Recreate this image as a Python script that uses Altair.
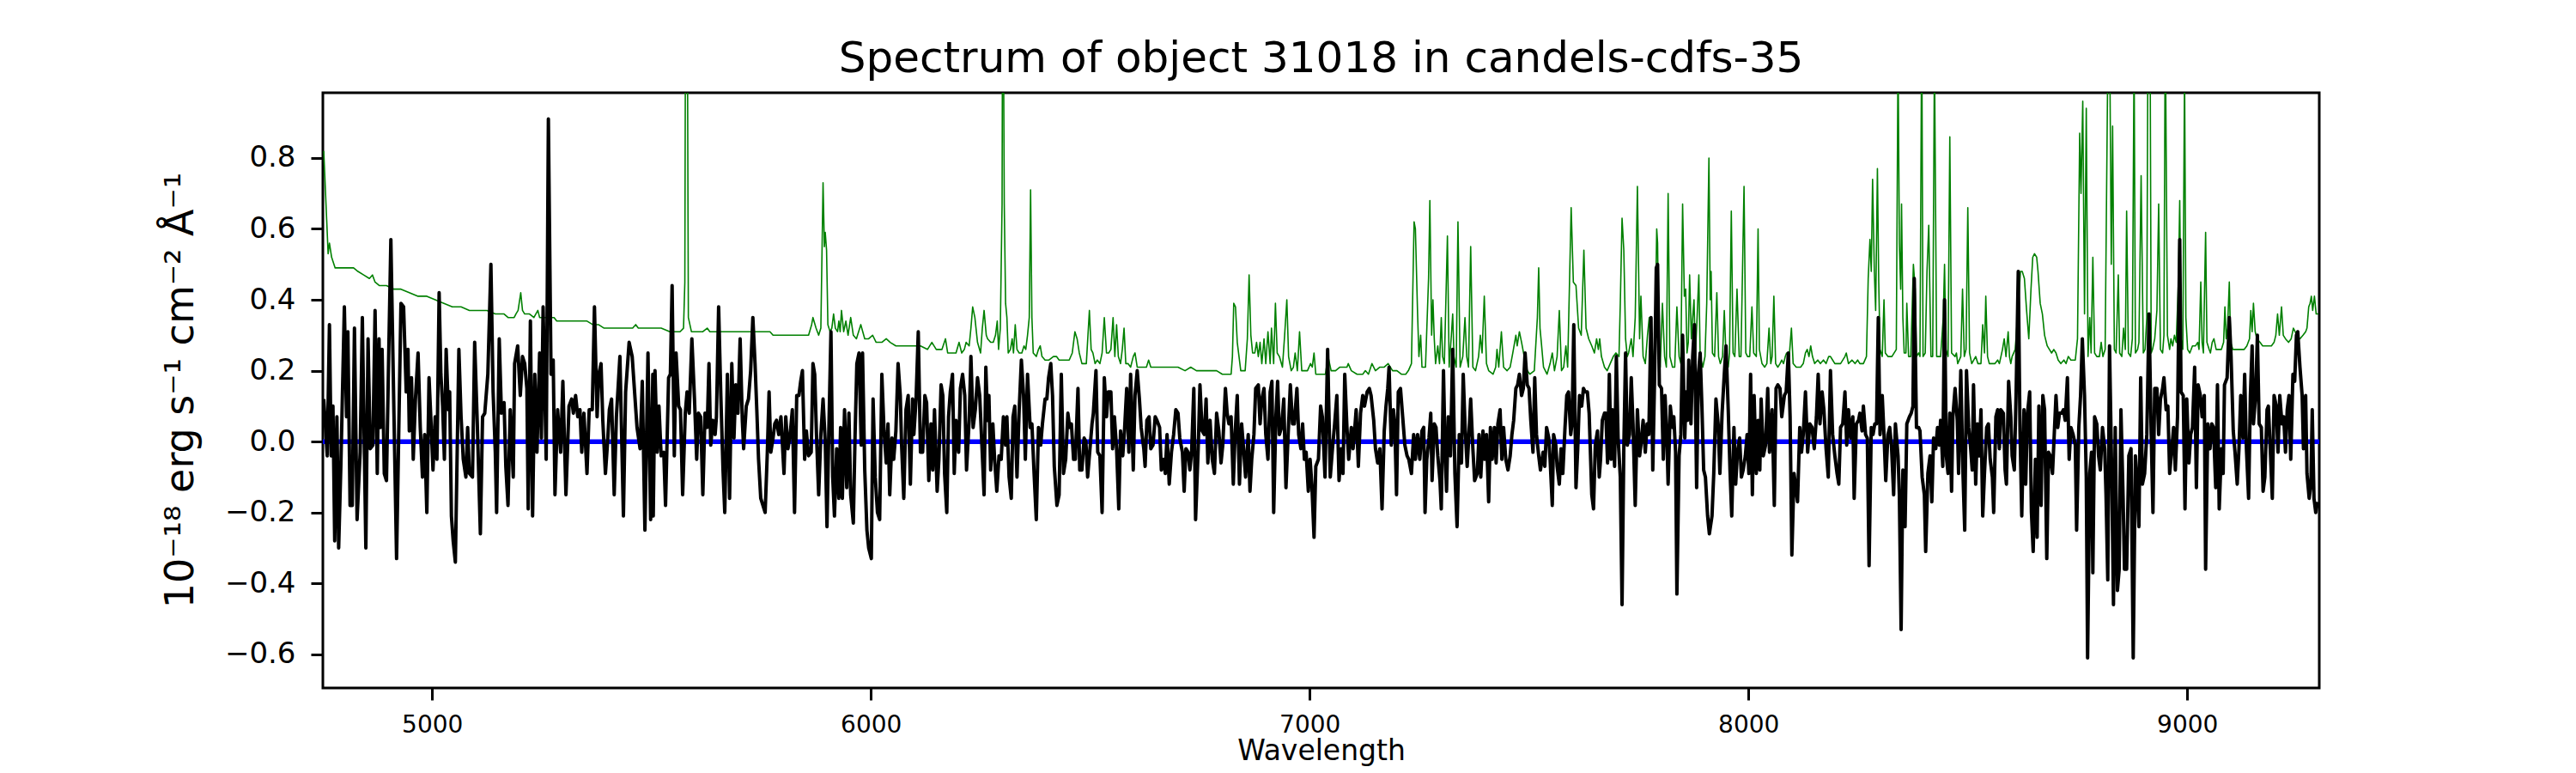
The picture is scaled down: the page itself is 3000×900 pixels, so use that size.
import altair as alt
import pandas as pd

# ---------------- data ----------------
# black: object spectrum (wavelength [Angstrom], flux [1e-18 erg/s/cm2/A])
black_4750_5500 = [
    (4753, 0.12), (4761, -0.04), (4766, 0.33), (4770, -0.04), (4774, 0.10), (4778, -0.28), (4783, 0.07), (4787, -0.30), (4792, -0.07), (4800, 0.38),
    (4805, 0.07), (4808, 0.31), (4813, -0.18), (4818, -0.18), (4823, 0.32), (4829, -0.22), (4836, -0.03), (4841, 0.35), (4849, -0.30), (4854, 0.29),
    (4859, -0.02), (4865, -0.01), (4870, 0.37), (4875, -0.09), (4879, 0.29), (4882, 0.04), (4886, 0.26), (4891, -0.09), (4896, -0.11), (4901, 0.24),
    (4906, 0.57), (4913, 0.08), (4919, -0.33), (4929, 0.39), (4935, 0.38), (4941, 0.14), (4945, 0.26), (4948, 0.03), (4953, 0.18), (4957, -0.05),
    (4962, 0.12), (4968, 0.25), (4973, 0.04), (4978, -0.10), (4983, 0.02), (4988, -0.20), (4993, 0.18), (4997, 0.07), (5002, -0.08), (5007, 0.07),
    (5011, -0.05), (5016, 0.42), (5020, 0.19), (5024, 0.10), (5028, -0.05), (5032, 0.26), (5037, 0.09), (5040, 0.14), (5044, -0.21), (5048, -0.28),
    (5053, -0.34), (5061, 0.26), (5066, 0.07), (5071, -0.05), (5077, -0.10), (5081, 0.04), (5085, -0.09), (5092, -0.10), (5097, 0.28), (5103, 0.05),
    (5110, -0.26), (5115, 0.07), (5120, 0.08), (5127, 0.19), (5134, 0.50), (5139, 0.14), (5144, -0.03), (5147, -0.20), (5153, 0.29), (5158, 0.08),
    (5164, 0.11), (5168, -0.07), (5173, -0.18), (5178, 0.09), (5185, -0.10), (5188, 0.22), (5195, 0.27), (5201, 0.13), (5206, 0.24), (5211, 0.22),
    (5216, 0.15), (5219, -0.19), (5224, 0.34), (5229, -0.21), (5234, 0.19), (5239, -0.03), (5245, 0.25), (5249, 0.01), (5253, 0.38), (5260, -0.05),
    (5265, 0.91), (5271, 0.19), (5276, 0.23), (5280, -0.15), (5286, 0.09), (5293, -0.03), (5298, 0.17), (5305, -0.15), (5312, 0.10), (5318, 0.12),
    (5322, 0.08), (5327, 0.13), (5332, 0.07), (5337, 0.09), (5341, -0.03), (5346, 0.08), (5353, -0.09), (5358, 0.09), (5365, 0.09), (5370, 0.38),
    (5376, 0.07), (5380, 0.19), (5385, 0.22), (5389, 0.06), (5395, -0.09), (5400, 0.00), (5404, 0.09), (5409, 0.12), (5415, -0.15), (5420, 0.07),
    (5428, 0.24), (5436, -0.21), (5441, 0.14), (5449, 0.28), (5456, 0.24), (5462, 0.13), (5467, 0.04), (5474, -0.02), (5479, 0.17), (5485, -0.25),
    (5492, 0.25), (5498, -0.22), (5503, 0.19),
]
black_5500_6270 = [
    (5504, -0.21), (5508, 0.20), (5513, -0.03), (5517, 0.10), (5522, -0.04), (5528, -0.03), (5532, -0.18), (5539, 0.18), (5543, 0.19), (5547, 0.44),
    (5552, -0.04), (5556, 0.25), (5562, 0.10), (5566, 0.09), (5571, -0.15), (5577, 0.08), (5581, 0.14), (5586, 0.08), (5592, 0.29), (5598, 0.12),
    (5603, -0.05), (5607, 0.08), (5612, 0.07), (5617, -0.15), (5622, 0.08), (5627, 0.04), (5631, 0.22), (5635, -0.01), (5640, 0.06), (5645, 0.02),
    (5648, 0.07), (5653, 0.38), (5658, 0.13), (5663, -0.08), (5667, -0.20), (5673, 0.19), (5678, -0.16), (5683, 0.22), (5688, 0.01), (5692, 0.16),
    (5697, 0.08), (5702, 0.29), (5707, 0.06), (5710, -0.02), (5716, 0.10), (5721, 0.12), (5726, 0.20), (5731, 0.35), (5736, 0.22), (5740, 0.09),
    (5744, -0.05), (5749, -0.16), (5754, -0.18), (5759, -0.20), (5764, -0.03), (5768, 0.14), (5772, -0.03), (5777, 0.01), (5781, 0.05), (5785, 0.06),
    (5790, 0.02), (5795, 0.07), (5802, -0.09), (5806, 0.07), (5811, -0.02), (5816, 0.02), (5821, 0.09), (5826, -0.20), (5831, 0.13), (5836, 0.13),
    (5840, 0.17), (5844, 0.20), (5849, -0.05), (5853, 0.03), (5858, -0.04), (5864, -0.03), (5868, 0.22), (5872, 0.19), (5876, 0.02), (5881, -0.15),
    (5886, 0.02), (5891, 0.12), (5896, 0.00), (5900, -0.24), (5904, 0.02), (5909, 0.31), (5913, -0.10), (5917, -0.21), (5922, -0.02), (5927, -0.16),
    (5931, 0.04), (5935, -0.16), (5940, 0.09), (5945, -0.13), (5950, 0.08), (5954, -0.15), (5960, -0.23), (5964, 0.02), (5968, 0.22), (5973, 0.25),
    (5978, -0.01), (5981, 0.25), (5986, -0.08), (5991, -0.25), (5995, -0.30), (6001, -0.33), (6005, 0.12), (6010, -0.10), (6015, -0.20), (6020, -0.22),
    (6025, 0.19), (6030, 0.03), (6035, -0.06), (6039, 0.05), (6043, -0.15), (6048, 0.01), (6052, -0.05), (6057, 0.03), (6062, 0.22), (6067, 0.13),
    (6070, -0.01), (6075, -0.16), (6080, 0.09), (6085, 0.13), (6090, -0.12), (6095, 0.12), (6098, 0.02), (6103, 0.12), (6108, 0.31), (6113, -0.03),
    (6118, -0.03), (6123, 0.13), (6127, 0.11), (6132, -0.11), (6137, 0.05), (6141, -0.08), (6145, 0.09), (6151, -0.14), (6155, -0.05), (6160, 0.16),
    (6164, 0.13), (6168, -0.09), (6173, -0.20), (6177, 0.07), (6181, 0.14), (6186, 0.19), (6190, -0.09), (6194, 0.06), (6200, -0.03), (6204, 0.15),
    (6209, 0.19), (6214, 0.13), (6218, -0.08), (6224, 0.06), (6228, 0.24), (6233, 0.04), (6238, 0.09), (6243, 0.18), (6248, 0.13), (6253, -0.01),
    (6258, -0.15), (6262, 0.21), (6266, 0.06),
]
black_6270_7030 = [
    (6269, 0.13), (6273, -0.08), (6278, 0.05), (6282, -0.05), (6287, -0.14), (6292, -0.04), (6297, -0.05), (6302, 0.07), (6307, -0.01), (6310, 0.07),
    (6315, -0.10), (6320, -0.16), (6324, 0.07), (6328, 0.10), (6333, -0.10), (6338, 0.09), (6343, 0.23), (6348, 0.13), (6352, -0.05), (6357, 0.19),
    (6363, 0.04), (6367, 0.05), (6372, -0.09), (6377, -0.22), (6382, 0.04), (6387, -0.01), (6391, 0.05), (6397, 0.12), (6401, 0.12), (6405, 0.18),
    (6410, 0.22), (6414, 0.13), (6418, -0.07), (6424, -0.18), (6429, -0.15), (6434, 0.19), (6439, -0.09), (6444, -0.05), (6449, 0.08), (6453, 0.04),
    (6457, 0.05), (6462, -0.05), (6466, -0.05), (6472, 0.15), (6476, -0.08), (6481, -0.08), (6486, 0.01), (6490, 0.00), (6494, -0.10), (6500, -0.01),
    (6504, 0.05), (6507, 0.08), (6513, 0.20), (6517, -0.03), (6522, -0.04), (6527, -0.20), (6532, 0.18), (6537, 0.07), (6541, 0.14), (6547, 0.14),
    (6551, -0.02), (6555, 0.07), (6560, -0.02), (6565, -0.19), (6569, 0.03), (6574, -0.04), (6578, 0.03), (6583, 0.15), (6588, -0.03), (6592, 0.19),
    (6598, -0.08), (6602, 0.13), (6607, 0.20), (6612, 0.12), (6616, 0.04), (6622, -0.02), (6625, -0.07), (6629, 0.06), (6634, 0.07), (6638, -0.02),
    (6643, -0.01), (6648, 0.07), (6652, 0.06), (6658, 0.04), (6662, -0.08), (6667, -0.05), (6671, -0.09), (6675, 0.02), (6680, -0.12), (6685, -0.03),
    (6690, 0.02), (6695, 0.09), (6700, 0.08), (6704, 0.01), (6710, -0.03), (6714, -0.14), (6718, -0.02), (6723, -0.03), (6727, -0.08), (6731, -0.03),
    (6736, 0.15), (6740, -0.22), (6746, -0.02), (6750, 0.16), (6755, 0.03), (6760, 0.02), (6764, 0.12), (6768, -0.06), (6773, 0.06), (6778, -0.05),
    (6783, -0.09), (6788, 0.08), (6793, 0.03), (6798, -0.06), (6802, -0.01), (6808, 0.15), (6812, 0.08), (6816, 0.05), (6821, 0.07), (6826, -0.12),
    (6830, 0.02), (6835, 0.13), (6840, -0.12), (6845, 0.05), (6850, -0.03), (6854, -0.10), (6860, 0.02), (6864, -0.14), (6868, -0.05), (6873, 0.02),
    (6877, 0.15), (6883, 0.16), (6887, 0.05), (6891, 0.12), (6896, 0.15), (6900, 0.02), (6905, -0.05), (6910, 0.14), (6914, 0.17), (6918, -0.20),
    (6923, 0.07), (6927, 0.17), (6931, 0.02), (6936, 0.04), (6941, 0.12), (6946, -0.13), (6951, 0.02), (6956, 0.16), (6961, 0.05), (6965, 0.05),
    (6971, 0.15), (6975, 0.02), (6980, -0.02), (6984, 0.05), (6988, -0.05), (6992, -0.03), (6997, -0.14), (7001, -0.05), (7005, -0.12), (7010, -0.27),
    (7014, -0.07), (7020, -0.05), (7025, 0.10),
]
black_7030_7790 = [
    (7029, 0.07), (7035, -0.10), (7041, 0.26), (7047, -0.10), (7052, -0.02), (7057, 0.05), (7062, 0.13), (7067, -0.11), (7072, -0.02), (7076, -0.09),
    (7080, 0.19), (7085, 0.04), (7089, -0.05), (7095, 0.04), (7099, -0.02), (7103, 0.04), (7106, 0.09), (7111, -0.07), (7116, 0.08), (7121, 0.13),
    (7125, 0.10), (7131, 0.14), (7136, 0.15), (7140, 0.13), (7146, 0.06), (7150, -0.02), (7155, -0.06), (7160, -0.02), (7165, -0.19), (7170, 0.03),
    (7174, 0.10), (7178, 0.15), (7181, 0.21), (7186, -0.01), (7191, 0.09), (7194, 0.05), (7198, -0.15), (7202, 0.14), (7207, 0.15), (7212, 0.07),
    (7217, -0.01), (7222, -0.04), (7226, -0.05), (7232, -0.09), (7237, 0.02), (7241, -0.05), (7246, 0.02), (7251, -0.05), (7256, 0.03), (7260, 0.04),
    (7263, -0.20), (7267, -0.05), (7272, 0.01), (7276, 0.08), (7279, -0.11), (7284, 0.05), (7288, 0.04), (7292, -0.04), (7297, -0.11), (7300, -0.19),
    (7305, 0.20), (7309, -0.04), (7312, -0.14), (7316, 0.07), (7321, -0.04), (7326, 0.26), (7331, -0.09), (7336, -0.24), (7341, 0.02), (7346, -0.06),
    (7350, 0.19), (7354, 0.05), (7359, -0.07), (7363, 0.02), (7367, 0.12), (7372, -0.02), (7376, -0.11), (7382, -0.09), (7386, 0.02), (7390, -0.10),
    (7395, 0.03), (7399, -0.05), (7403, 0.02), (7408, -0.17), (7412, 0.04), (7416, -0.05), (7421, 0.04), (7425, -0.06), (7429, 0.05), (7434, 0.09),
    (7438, -0.05), (7442, 0.04), (7447, -0.05), (7452, -0.08), (7457, -0.04), (7461, 0.02), (7465, 0.06), (7470, 0.15), (7474, 0.16), (7478, 0.19),
    (7483, 0.13), (7487, 0.15), (7491, 0.25), (7496, 0.16), (7500, 0.15), (7504, 0.06), (7509, -0.03), (7513, 0.18), (7517, 0.02), (7522, -0.04),
    (7526, -0.08), (7532, -0.03), (7536, -0.07), (7540, 0.04), (7545, 0.01), (7548, -0.05), (7553, -0.18), (7556, 0.02), (7561, -0.01), (7564, -0.07),
    (7569, -0.12), (7573, -0.02), (7577, -0.09), (7582, 0.04), (7586, 0.13), (7590, 0.14), (7595, 0.02), (7598, 0.05), (7602, 0.33), (7607, -0.13),
    (7611, -0.02), (7615, 0.13), (7620, 0.10), (7624, 0.15), (7628, 0.14), (7633, 0.14), (7637, 0.08), (7643, -0.15), (7647, -0.19), (7651, -0.01),
    (7656, 0.03), (7660, -0.10), (7663, -0.05), (7667, 0.06), (7672, 0.08), (7675, 0.08), (7679, -0.06), (7683, 0.19), (7687, -0.05), (7690, 0.09),
    (7695, -0.07), (7699, 0.24), (7703, 0.01), (7708, -0.10), (7712, -0.46), (7716, -0.02), (7720, 0.25), (7724, -0.01), (7729, 0.02), (7733, 0.18),
    (7737, 0.05), (7742, -0.18), (7747, 0.09), (7752, -0.04), (7755, -0.01), (7760, 0.06), (7765, -0.03), (7769, 0.05), (7773, 0.02), (7778, 0.35),
    (7782, -0.08), (7786, 0.17), (7790, 0.49),
]
black_7790_8560 = [
    (7793, 0.50), (7797, 0.16), (7802, 0.15), (7806, -0.05), (7810, 0.13), (7814, 0.02), (7817, -0.12), (7822, 0.10), (7827, 0.04), (7830, 0.07),
    (7834, -0.03), (7837, -0.43), (7842, -0.04), (7846, 0.02), (7850, 0.30), (7855, 0.01), (7858, 0.14), (7861, 0.06), (7864, 0.23), (7869, 0.05),
    (7873, 0.24), (7877, 0.33), (7882, -0.13), (7886, 0.19), (7890, 0.25), (7894, 0.10), (7898, -0.08), (7902, -0.10), (7907, -0.21), (7911, -0.26),
    (7917, -0.21), (7921, -0.09), (7926, 0.12), (7931, 0.05), (7935, -0.09), (7940, 0.08), (7945, 0.19), (7949, 0.27), (7954, 0.09), (7958, -0.08),
    (7962, -0.21), (7967, 0.04), (7971, -0.12), (7975, -0.03), (7980, 0.01), (7984, -0.10), (7988, -0.08), (7993, -0.04), (7997, 0.02), (8001, -0.09),
    (8005, 0.19), (8009, -0.15), (8013, 0.13), (8018, -0.09), (8022, 0.06), (8026, -0.08), (8029, 0.12), (8034, -0.04), (8039, -0.01), (8044, 0.15),
    (8048, -0.03), (8054, 0.09), (8059, -0.18), (8063, 0.15), (8067, 0.16), (8072, 0.15), (8076, 0.07), (8082, 0.13), (8086, 0.14), (8091, 0.25),
    (8095, 0.07), (8099, -0.32), (8104, -0.09), (8108, -0.13), (8112, -0.17), (8117, 0.04), (8121, -0.03), (8125, 0.02), (8130, 0.14), (8135, -0.03),
    (8140, 0.05), (8145, 0.04), (8150, -0.02), (8155, 0.07), (8159, 0.19), (8163, 0.05), (8168, 0.14), (8172, 0.09), (8177, -0.02), (8182, -0.10),
    (8187, 0.20), (8192, 0.02), (8197, -0.04), (8202, -0.09), (8206, -0.12), (8210, 0.04), (8215, 0.05), (8220, 0.14), (8224, -0.01), (8228, 0.09),
    (8233, 0.01), (8238, 0.07), (8241, -0.16), (8246, 0.05), (8251, 0.06), (8254, 0.08), (8259, 0.03), (8262, 0.10), (8267, 0.02), (8271, 0.01),
    (8275, -0.35), (8280, 0.04), (8284, 0.02), (8288, 0.05), (8292, 0.05), (8296, 0.35), (8300, 0.02), (8305, 0.13), (8309, 0.02), (8313, -0.11),
    (8318, 0.02), (8322, 0.04), (8326, -0.01), (8331, -0.15), (8335, 0.05), (8341, -0.04), (8344, -0.15), (8348, -0.53), (8352, -0.08), (8357, -0.24),
    (8361, 0.05), (8367, 0.07), (8371, 0.08), (8375, 0.10), (8378, 0.46), (8383, 0.04), (8388, 0.04), (8391, 0.03), (8396, -0.10), (8401, -0.15),
    (8404, -0.31), (8409, -0.09), (8414, -0.04), (8418, -0.17), (8422, 0.01), (8427, -0.02), (8431, 0.04), (8435, -0.01), (8438, 0.06), (8443, -0.07),
    (8447, 0.40), (8451, -0.04), (8455, -0.09), (8459, 0.08), (8463, -0.14), (8466, 0.07), (8471, 0.15), (8476, 0.06), (8479, -0.09), (8484, 0.20),
    (8489, -0.09), (8493, -0.25), (8497, 0.20), (8502, 0.04), (8506, -0.01), (8510, -0.08), (8513, 0.16), (8518, -0.12), (8522, 0.05), (8526, -0.04),
    (8530, 0.09), (8534, -0.21), (8538, -0.09), (8543, 0.04), (8547, 0.05), (8551, -0.05), (8556, -0.10),
]
black_8560_9300 = [
    (8559, -0.20), (8564, 0.07), (8568, 0.09), (8572, -0.02), (8575, 0.09), (8581, 0.08), (8585, -0.08), (8588, -0.12), (8593, 0.17), (8598, 0.07),
    (8601, -0.04), (8606, -0.08), (8610, 0.13), (8615, 0.48), (8619, 0.03), (8623, -0.21), (8628, 0.09), (8632, -0.12), (8636, 0.08), (8641, 0.14),
    (8645, -0.20), (8649, -0.31), (8654, -0.05), (8658, -0.27), (8662, 0.10), (8667, -0.18), (8671, 0.13), (8675, 0.09), (8680, -0.33), (8684, -0.03),
    (8688, -0.04), (8693, -0.09), (8697, 0.02), (8701, 0.13), (8705, 0.04), (8709, 0.08), (8714, 0.08), (8718, 0.09), (8722, 0.06), (8727, 0.18),
    (8731, -0.05), (8735, 0.04), (8740, 0.02), (8745, -0.01), (8748, -0.25), (8753, 0.04), (8757, 0.13), (8761, 0.29), (8766, 0.13), (8770, -0.10),
    (8773, -0.61), (8778, -0.09), (8782, -0.03), (8785, -0.37), (8789, 0.07), (8794, 0.05), (8798, -0.04), (8802, -0.08), (8807, 0.04), (8812, -0.02),
    (8815, -0.15), (8819, -0.39), (8823, 0.27), (8828, -0.09), (8832, -0.46), (8836, 0.04), (8841, -0.42), (8845, -0.36), (8849, 0.09), (8854, -0.16),
    (8857, -0.36), (8862, -0.36), (8867, -0.04), (8872, -0.02), (8877, -0.61), (8882, -0.04), (8886, -0.12), (8890, -0.24), (8894, 0.18), (8898, -0.12),
    (8903, -0.09), (8908, 0.02), (8913, 0.36), (8918, 0.02), (8922, -0.20), (8926, 0.15), (8931, 0.15), (8935, 0.02), (8939, 0.12), (8944, 0.15),
    (8947, 0.18), (8952, 0.09), (8956, 0.10), (8960, -0.09), (8965, -0.02), (8969, 0.04), (8973, -0.08), (8978, 0.07), (8983, 0.57), (8986, 0.14),
    (8991, 0.13), (8995, -0.19), (8999, 0.12), (9004, -0.06), (9008, 0.02), (9012, 0.04), (9017, 0.21), (9021, -0.13), (9025, 0.16), (9030, 0.13),
    (9034, 0.07), (9039, 0.13), (9042, -0.36), (9047, 0.05), (9052, -0.02), (9056, 0.05), (9060, 0.04), (9065, -0.13), (9069, 0.16), (9073, -0.19),
    (9078, -0.02), (9082, -0.09), (9085, 0.16), (9091, 0.18), (9096, 0.35), (9100, 0.24), (9105, 0.03), (9109, -0.03), (9114, -0.12), (9118, -0.02),
    (9122, 0.13), (9127, 0.01), (9131, 0.19), (9135, -0.02), (9140, -0.16), (9144, 0.13), (9148, 0.27), (9151, 0.05), (9156, 0.13), (9160, 0.30),
    (9164, 0.05), (9169, 0.04), (9173, -0.14), (9177, -0.10), (9182, 0.09), (9185, 0.10), (9190, -0.04), (9194, -0.16), (9198, 0.13), (9203, 0.10),
    (9207, -0.03), (9211, 0.13), (9216, 0.05), (9220, 0.07), (9224, -0.03), (9228, 0.09), (9232, 0.13), (9236, -0.05), (9241, 0.19), (9245, 0.17),
    (9249, 0.30), (9252, 0.31), (9257, 0.21), (9262, 0.13), (9265, -0.02), (9270, 0.13), (9273, -0.09), (9278, -0.16), (9282, -0.12), (9285, 0.09),
    (9289, -0.16), (9293, -0.20), (9297, -0.17),
]

# green: noise / sky spectrum (sky lines run off the top of the panel)
green_4750_5500 = [
    (4753, 0.82), (4763, 0.53), (4766, 0.56), (4771, 0.52), (4779, 0.49), (4789, 0.49), (4802, 0.49), (4811, 0.49), (4821, 0.49), (4831, 0.48),
    (4844, 0.47), (4857, 0.46), (4864, 0.47), (4870, 0.45), (4880, 0.44), (4896, 0.44), (4913, 0.43), (4929, 0.43), (4948, 0.42), (4968, 0.41),
    (4988, 0.41), (5007, 0.40), (5027, 0.39), (5046, 0.38), (5066, 0.38), (5085, 0.37), (5105, 0.37), (5125, 0.37), (5144, 0.36), (5164, 0.36),
    (5173, 0.35), (5180, 0.35), (5187, 0.35), (5191, 0.36), (5196, 0.37), (5202, 0.42), (5206, 0.37), (5211, 0.36), (5222, 0.36), (5232, 0.35),
    (5241, 0.37), (5245, 0.35), (5255, 0.35), (5268, 0.35), (5278, 0.35), (5284, 0.34), (5301, 0.34), (5317, 0.34), (5333, 0.34), (5353, 0.34),
    (5366, 0.33), (5379, 0.33), (5392, 0.32), (5412, 0.32), (5431, 0.32), (5457, 0.32), (5464, 0.33), (5470, 0.32), (5503, 0.32),
]
green_5500_6270 = [
    (5522, 0.32), (5542, 0.31), (5565, 0.31), (5573, 0.32), (5576, 0.45), (5578, 1.5), (5581, 1.5), (5584, 0.35), (5591, 0.31), (5601, 0.31),
    (5607, 0.31), (5617, 0.31), (5627, 0.32), (5633, 0.31), (5646, 0.31), (5659, 0.31), (5673, 0.31), (5686, 0.31), (5699, 0.31), (5718, 0.31),
    (5738, 0.31), (5764, 0.31), (5770, 0.31), (5777, 0.30), (5796, 0.30), (5829, 0.30), (5858, 0.30), (5865, 0.33), (5868, 0.35), (5875, 0.32),
    (5881, 0.30), (5886, 0.32), (5891, 0.73), (5894, 0.55), (5896, 0.59), (5899, 0.54), (5902, 0.33), (5907, 0.31), (5911, 0.32), (5915, 0.36),
    (5919, 0.32), (5924, 0.31), (5927, 0.34), (5930, 0.31), (5933, 0.37), (5938, 0.31), (5943, 0.34), (5948, 0.30), (5954, 0.35), (5960, 0.30),
    (5967, 0.29), (5977, 0.33), (5986, 0.29), (5995, 0.29), (6004, 0.30), (6012, 0.28), (6025, 0.28), (6035, 0.29), (6044, 0.28), (6057, 0.27),
    (6070, 0.27), (6087, 0.27), (6100, 0.27), (6113, 0.27), (6129, 0.26), (6139, 0.28), (6149, 0.26), (6162, 0.26), (6170, 0.29), (6175, 0.25),
    (6188, 0.25), (6194, 0.25), (6201, 0.28), (6207, 0.25), (6213, 0.26), (6217, 0.28), (6224, 0.27), (6228, 0.32), (6232, 0.38), (6237, 0.35),
    (6243, 0.28), (6250, 0.25), (6254, 0.32), (6258, 0.37), (6263, 0.30),
]
green_6270_7030 = [
    (6266, 0.29), (6273, 0.28), (6279, 0.28), (6284, 0.30), (6288, 0.34), (6291, 0.26), (6295, 0.32), (6299, 0.67), (6300, 1.2), (6302, 1.2),
    (6304, 0.67), (6307, 0.39), (6310, 0.35), (6313, 0.25), (6318, 0.26), (6322, 0.29), (6325, 0.25), (6329, 0.33), (6333, 0.26), (6338, 0.25),
    (6344, 0.25), (6349, 0.27), (6353, 0.26), (6357, 0.30), (6361, 0.35), (6364, 0.71), (6367, 0.35), (6370, 0.25), (6377, 0.24), (6382, 0.26),
    (6386, 0.27), (6390, 0.24), (6397, 0.23), (6406, 0.23), (6416, 0.24), (6423, 0.24), (6429, 0.23), (6439, 0.23), (6452, 0.23), (6459, 0.25),
    (6465, 0.31), (6470, 0.29), (6475, 0.25), (6481, 0.22), (6491, 0.22), (6498, 0.37), (6502, 0.26), (6506, 0.25), (6511, 0.22), (6516, 0.23),
    (6522, 0.22), (6527, 0.25), (6532, 0.35), (6537, 0.25), (6542, 0.25), (6547, 0.26), (6552, 0.35), (6556, 0.24), (6560, 0.33), (6564, 0.24),
    (6569, 0.22), (6573, 0.26), (6577, 0.32), (6581, 0.22), (6586, 0.22), (6592, 0.21), (6598, 0.24), (6602, 0.25), (6607, 0.21), (6618, 0.21),
    (6628, 0.21), (6633, 0.23), (6638, 0.21), (6658, 0.21), (6667, 0.21), (6684, 0.21), (6700, 0.21), (6716, 0.20), (6729, 0.21), (6742, 0.20),
    (6762, 0.20), (6788, 0.20), (6801, 0.19), (6821, 0.19), (6824, 0.24), (6827, 0.39), (6831, 0.38), (6835, 0.28), (6839, 0.24), (6843, 0.20),
    (6849, 0.20), (6853, 0.20), (6858, 0.29), (6862, 0.47), (6866, 0.30), (6870, 0.25), (6875, 0.25), (6879, 0.28), (6883, 0.24), (6887, 0.28),
    (6891, 0.22), (6896, 0.29), (6900, 0.22), (6905, 0.31), (6910, 0.22), (6913, 0.32), (6918, 0.22), (6922, 0.39), (6926, 0.25), (6931, 0.24),
    (6938, 0.21), (6943, 0.30), (6948, 0.40), (6952, 0.24), (6958, 0.20), (6963, 0.21), (6967, 0.25), (6972, 0.20), (6977, 0.31), (6982, 0.20),
    (6987, 0.20), (6991, 0.20), (6995, 0.20), (7002, 0.22), (7006, 0.21), (7010, 0.25), (7014, 0.19), (7023, 0.19),
]
green_7030_7790 = [
    (7029, 0.19), (7036, 0.19), (7042, 0.24), (7049, 0.20), (7059, 0.20), (7069, 0.21), (7078, 0.21), (7085, 0.21), (7088, 0.22), (7095, 0.20),
    (7108, 0.19), (7121, 0.19), (7127, 0.20), (7134, 0.19), (7142, 0.22), (7150, 0.20), (7160, 0.21), (7170, 0.21), (7179, 0.22), (7189, 0.20),
    (7199, 0.20), (7209, 0.19), (7219, 0.19), (7225, 0.20), (7232, 0.22), (7235, 0.42), (7238, 0.62), (7241, 0.60), (7246, 0.36), (7249, 0.24),
    (7253, 0.30), (7256, 0.21), (7264, 0.21), (7271, 0.46), (7274, 0.68), (7278, 0.30), (7281, 0.40), (7284, 0.29), (7287, 0.22), (7292, 0.27),
    (7296, 0.22), (7300, 0.35), (7303, 0.24), (7307, 0.22), (7314, 0.58), (7318, 0.21), (7323, 0.30), (7326, 0.36), (7329, 0.24), (7334, 0.21),
    (7338, 0.62), (7343, 0.21), (7349, 0.24), (7354, 0.35), (7358, 0.24), (7362, 0.21), (7367, 0.55), (7372, 0.21), (7378, 0.20), (7385, 0.24),
    (7389, 0.30), (7393, 0.25), (7398, 0.41), (7403, 0.22), (7408, 0.20), (7418, 0.19), (7424, 0.21), (7427, 0.26), (7431, 0.21), (7437, 0.31),
    (7442, 0.21), (7450, 0.20), (7457, 0.21), (7463, 0.25), (7470, 0.30), (7473, 0.27), (7478, 0.31), (7483, 0.28), (7489, 0.24), (7496, 0.20),
    (7502, 0.19), (7512, 0.20), (7519, 0.35), (7522, 0.49), (7525, 0.32), (7528, 0.28), (7533, 0.21), (7541, 0.19), (7548, 0.22), (7553, 0.25),
    (7558, 0.20), (7564, 0.24), (7569, 0.37), (7574, 0.20), (7579, 0.21), (7584, 0.27), (7588, 0.21), (7596, 0.66), (7601, 0.45), (7607, 0.44),
    (7613, 0.32), (7619, 0.30), (7625, 0.54), (7630, 0.32), (7636, 0.29), (7643, 0.27), (7649, 0.25), (7654, 0.29), (7658, 0.26), (7661, 0.29),
    (7665, 0.24), (7672, 0.21), (7678, 0.20), (7685, 0.22), (7692, 0.24), (7698, 0.25), (7705, 0.24), (7708, 0.39), (7712, 0.63), (7716, 0.54),
    (7720, 0.29), (7724, 0.24), (7727, 0.25), (7733, 0.29), (7737, 0.24), (7742, 0.35), (7747, 0.72), (7752, 0.29), (7755, 0.41), (7760, 0.24),
    (7765, 0.22), (7770, 0.30), (7774, 0.35), (7778, 0.25), (7783, 0.22), (7787, 0.28), (7791, 0.60),
]
green_7790_8560 = [
    (7793, 0.56), (7796, 0.24), (7799, 0.21), (7804, 0.39), (7809, 0.24), (7813, 0.21), (7817, 0.70), (7821, 0.24), (7827, 0.21), (7832, 0.21),
    (7837, 0.38), (7842, 0.24), (7846, 0.22), (7850, 0.67), (7854, 0.41), (7857, 0.43), (7860, 0.25), (7863, 0.28), (7866, 0.47), (7870, 0.29),
    (7873, 0.35), (7876, 0.40), (7879, 0.24), (7883, 0.35), (7887, 0.47), (7890, 0.24), (7896, 0.21), (7901, 0.24), (7905, 0.39), (7910, 0.80),
    (7913, 0.40), (7915, 0.48), (7918, 0.25), (7923, 0.24), (7928, 0.42), (7932, 0.24), (7936, 0.22), (7941, 0.24), (7945, 0.37), (7949, 0.24),
    (7954, 0.21), (7957, 0.25), (7961, 0.65), (7965, 0.25), (7969, 0.24), (7974, 0.43), (7979, 0.24), (7983, 0.24), (7990, 0.72), (7994, 0.25),
    (7998, 0.24), (8003, 0.24), (8008, 0.38), (8012, 0.25), (8018, 0.24), (8022, 0.60), (8025, 0.26), (8031, 0.22), (8037, 0.21), (8042, 0.22),
    (8047, 0.32), (8051, 0.22), (8054, 0.24), (8058, 0.41), (8062, 0.22), (8067, 0.21), (8072, 0.22), (8076, 0.23), (8080, 0.22), (8084, 0.24),
    (8087, 0.25), (8093, 0.24), (8098, 0.32), (8102, 0.22), (8109, 0.21), (8119, 0.21), (8125, 0.22), (8130, 0.25), (8134, 0.26), (8138, 0.24),
    (8142, 0.27), (8146, 0.24), (8151, 0.22), (8158, 0.23), (8164, 0.22), (8171, 0.23), (8177, 0.22), (8183, 0.24), (8187, 0.24), (8192, 0.23),
    (8197, 0.22), (8210, 0.22), (8220, 0.24), (8223, 0.25), (8228, 0.22), (8236, 0.23), (8243, 0.22), (8249, 0.23), (8254, 0.22), (8262, 0.22),
    (8269, 0.24), (8273, 0.46), (8277, 0.57), (8280, 0.48), (8283, 0.74), (8287, 0.48), (8290, 0.37), (8294, 0.77), (8297, 0.45), (8300, 0.26),
    (8305, 0.24), (8309, 0.40), (8312, 0.25), (8318, 0.24), (8327, 0.24), (8337, 0.26), (8341, 1.1), (8344, 0.56), (8347, 0.43), (8349, 0.67),
    (8352, 0.35), (8355, 0.25), (8359, 0.25), (8361, 0.39), (8365, 0.24), (8370, 0.24), (8376, 0.50), (8380, 0.43), (8383, 0.24), (8388, 0.25),
    (8391, 0.24), (8395, 1.2), (8398, 0.24), (8403, 0.25), (8407, 0.48), (8411, 0.61), (8416, 0.24), (8420, 0.24), (8424, 1.1), (8429, 0.24),
    (8438, 0.24), (8444, 0.35), (8447, 0.50), (8450, 0.26), (8455, 0.24), (8459, 0.86), (8463, 0.25), (8471, 0.24), (8474, 0.25), (8477, 0.22),
    (8484, 0.24), (8488, 0.43), (8492, 0.24), (8496, 0.26), (8500, 0.66), (8504, 0.25), (8509, 0.22), (8518, 0.24), (8523, 0.22), (8530, 0.22),
    (8534, 0.33), (8538, 0.25), (8541, 0.41), (8545, 0.24), (8549, 0.22), (8556, 0.22),
]
green_8560_9300 = [
    (8562, 0.22), (8568, 0.23), (8572, 0.22), (8579, 0.26), (8583, 0.29), (8587, 0.24), (8592, 0.31), (8595, 0.24), (8598, 0.22), (8601, 0.24),
    (8608, 0.26), (8615, 0.38), (8620, 0.48), (8624, 0.48), (8629, 0.46), (8634, 0.37), (8639, 0.29), (8644, 0.43), (8648, 0.52), (8652, 0.53),
    (8657, 0.52), (8660, 0.48), (8665, 0.39), (8670, 0.36), (8675, 0.30), (8681, 0.27), (8686, 0.26), (8691, 0.25), (8696, 0.26), (8701, 0.25),
    (8706, 0.23), (8712, 0.22), (8719, 0.23), (8724, 0.22), (8729, 0.24), (8735, 0.23), (8745, 0.23), (8750, 0.29), (8755, 0.87), (8758, 0.70),
    (8762, 0.96), (8766, 0.36), (8770, 0.94), (8774, 0.24), (8778, 0.35), (8781, 0.25), (8785, 0.52), (8789, 0.25), (8794, 0.24), (8800, 0.24),
    (8804, 0.28), (8808, 0.24), (8813, 0.26), (8820, 1.2), (8823, 1.2), (8827, 0.50), (8830, 0.89), (8834, 0.26), (8838, 0.25), (8843, 0.47),
    (8846, 0.25), (8851, 0.24), (8855, 0.32), (8859, 0.26), (8862, 0.65), (8866, 0.25), (8871, 0.24), (8875, 0.29), (8879, 1.1), (8882, 0.25),
    (8887, 0.26), (8890, 0.28), (8895, 0.75), (8900, 0.25), (8904, 0.26), (8908, 0.35), (8911, 1.3), (8915, 1.3), (8918, 0.25), (8921, 0.26),
    (8926, 0.29), (8931, 0.37), (8935, 0.67), (8939, 0.26), (8944, 0.25), (8947, 0.30), (8950, 1.2), (8955, 0.30), (8960, 0.26), (8963, 0.29),
    (8967, 0.27), (8971, 0.30), (8975, 0.28), (8980, 0.45), (8983, 0.68), (8986, 0.29), (8990, 0.26), (8994, 1.05), (8997, 0.35), (9001, 0.26),
    (9006, 0.25), (9012, 0.27), (9019, 0.27), (9024, 0.28), (9027, 0.26), (9031, 0.45), (9034, 0.28), (9037, 0.25), (9042, 0.59), (9045, 0.28),
    (9050, 0.26), (9053, 0.25), (9057, 0.28), (9061, 0.29), (9066, 0.26), (9071, 0.26), (9078, 0.26), (9083, 0.28), (9086, 0.38), (9089, 0.29),
    (9092, 0.32), (9096, 0.45), (9099, 0.28), (9104, 0.26), (9110, 0.26), (9117, 0.26), (9123, 0.26), (9130, 0.26), (9136, 0.27), (9142, 0.29),
    (9145, 0.37), (9148, 0.31), (9151, 0.39), (9155, 0.31), (9159, 0.29), (9166, 0.28), (9172, 0.27), (9182, 0.27), (9192, 0.27), (9198, 0.28),
    (9202, 0.30), (9206, 0.36), (9210, 0.30), (9215, 0.38), (9219, 0.30), (9224, 0.29), (9231, 0.28), (9237, 0.29), (9242, 0.32), (9246, 0.31),
    (9250, 0.30), (9257, 0.29), (9264, 0.30), (9270, 0.31), (9273, 0.32), (9277, 0.38), (9280, 0.39), (9283, 0.41), (9286, 0.37), (9290, 0.41),
    (9294, 0.36), (9299, 0.36),
]

zero_level = [0.0]
x_ticks = [5000, 6000, 7000, 8000, 9000]
y_ticks = [-0.6, -0.4, -0.2, 0.0, 0.2, 0.4, 0.6, 0.8]
x_range = [4751, 9301]
y_range = [-0.695, 0.984]

title_text = "Spectrum of object 31018 in candels-cdfs-35"
x_title = "Wavelength"
y_title = "10\u207b\u00b9\u2078 erg s\u207b\u00b9 cm\u207b\u00b2 \u00c5\u207b\u00b9"

# ---------------- tables ----------------
cols = ["wavelength", "flux"]
black_df = pd.DataFrame(black_4750_5500 + black_5500_6270 + black_6270_7030 +
                        black_7030_7790 + black_7790_8560 + black_8560_9300, columns=cols)
green_df = pd.DataFrame(green_4750_5500 + green_5500_6270 + green_6270_7030 +
                        green_7030_7790 + green_7790_8560 + green_8560_9300, columns=cols)
zero_df = pd.DataFrame({"flux": zero_level})

FONT = "DejaVu Sans"

x_enc = alt.X(
    "wavelength:Q",
    scale=alt.Scale(domain=x_range, nice=False, zero=False),
    axis=alt.Axis(
        values=x_ticks, format="d", title=x_title, grid=False, domain=False,
        ticks=True, tickSize=14, tickWidth=3, tickColor="black",
        labelFont=FONT, labelFontSize=28, labelColor="black",
        labelBaseline="alphabetic", labelPadding=37,
        titleFont=FONT, titleFontSize=33, titleFontWeight="normal", titleColor="black",
        titleBaseline="alphabetic", titleY=83,
    ),
)
y_enc = alt.Y(
    "flux:Q",
    scale=alt.Scale(domain=y_range, nice=False, zero=False),
    axis=alt.Axis(
        values=y_ticks, format=".1f", title=y_title, grid=False, domain=False,
        ticks=True, tickSize=14, tickWidth=3, tickColor="black",
        labelFont=FONT, labelFontSize=34, labelColor="black", labelPadding=18,
        titleFont=FONT, titleFontSize=46, titleFontWeight="normal", titleColor="black",
        titleAngle=270, titleAlign="center", titleBaseline="alphabetic",
        titleX=-152, titleY=346,
    ),
)

green_line = alt.Chart(green_df).mark_line(
    color="#008000", strokeWidth=1.6, clip=True, strokeJoin="round"
).encode(x=x_enc, y=y_enc)

zero_rule = alt.Chart(zero_df).mark_rule(
    color="#0000ff", strokeWidth=5.5
).encode(y=y_enc)

black_line = alt.Chart(black_df).mark_line(
    color="black", strokeWidth=4, clip=True, strokeJoin="round"
).encode(x=x_enc, y=y_enc)

chart = alt.layer(green_line, zero_rule, black_line).properties(
    width=2325,
    height=693,
    background="white",
    title=alt.Title(
        title_text, font=FONT, fontSize=50, fontWeight="normal", color="black",
        anchor="middle", frame="group", baseline="top", offset=14.5,
    ),
    padding={"left": 368, "top": 100, "right": 291, "bottom": 91},
    autosize=alt.AutoSizeParams(type="none"),
).configure_view(
    stroke="black", strokeWidth=3, fill="white"
)

chart.save("out.html", embed_options={"renderer": "svg", "actions": False})
